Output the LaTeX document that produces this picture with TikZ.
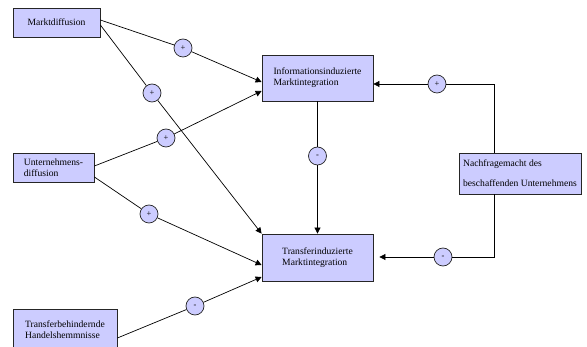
\documentclass[tikz,border=0pt]{standalone}
\usepackage{fontspec}
\setmainfont{Liberation Serif}
\usetikzlibrary{arrows.meta}
\definecolor{boxfill}{RGB}{204,204,255}
\begin{document}
\begin{tikzpicture}[x=1pt,y=-1pt,
  box/.style={draw=black!85,fill=boxfill,line width=0.8pt,inner sep=0pt,align=left,font=\fontsize{9.6}{11}\selectfont},
  sign/.style={circle,draw=black!85,fill=boxfill,line width=0.7pt,minimum size=18pt,inner sep=0pt,font=\fontsize{8.5}{9}\selectfont},
  link/.style={line width=0.7pt},
  arr/.style={link,-{Triangle[length=6pt,width=6pt]}}]
\useasboundingbox (0,0) rectangle (587,347);

\node[box,minimum width=87pt,minimum height=29pt] (markt) at (56.5,22.5) {Marktdiffusion};
\node[box,minimum width=81pt,minimum height=29pt] (untern) at (53.5,167.5) {Unternehmens-\\diffusion};
\node[box,minimum width=104pt,minimum height=41pt] (transb) at (65,329.5) {Transferbehindernde\\Handelshemmnisse};
\node[box,minimum width=111pt,minimum height=46pt] (info) at (317.5,78) {Informationsinduzierte\\Marktintegration};
\node[box,minimum width=111pt,minimum height=47pt] (transf) at (317.5,257.5) {Transferinduzierte\\Marktintegration};
\node[box,minimum width=122pt,minimum height=41pt,font=\fontsize{9.6}{20}\selectfont] (nachf) at (520,173.5) {Nachfragemacht des\\beschaffenden Unternehmens};

\node[sign] (s1) at (183,48) {+};
\node[sign] (s2) at (152,93) {+};
\node[sign] (s3) at (166,138) {+};
\node[sign] (s4) at (149,214) {+};
\node[sign] (s5) at (195,306) {-};
\node[sign] (s6) at (317.5,156) {-};
\node[sign] (s7) at (437,84) {+};
\node[sign] (s8) at (443,257) {-};

\draw[link] ([yshift=2.5pt]markt.east) -- (s1);
\draw[arr] (s1) -- ([yshift=-4pt]info.west);
\draw[link] ([yshift=-2.5pt]markt.east) -- (s2);
\draw[arr] (s2) -- (transf.north west);
\draw[link] ([yshift=1.5pt]untern.east) -- (s3);
\draw[arr] (s3) -- ([yshift=-13pt]info.west);
\draw[link] ([yshift=-9.5pt]untern.east) -- (s4);
\draw[arr] (s4) -- ([yshift=-7.5pt]transf.west);
\draw[link] ([yshift=-8.5pt]transb.east) -- (s5);
\draw[arr] (s5) -- ([yshift=-19.5pt]transf.west);
\draw[link] (info) -- (s6);
\draw[arr] (s6) -- (transf);
\draw[link] ([xshift=-26pt]nachf.north) |- (s7);
\draw[arr] (s7) -- (info.east |- s7);
\draw[link] ([xshift=-26pt]nachf.south) |- (s8);
\draw[arr,shorten >=6pt] (s8) -- (transf.east |- s8);
\end{tikzpicture}
\end{document}
